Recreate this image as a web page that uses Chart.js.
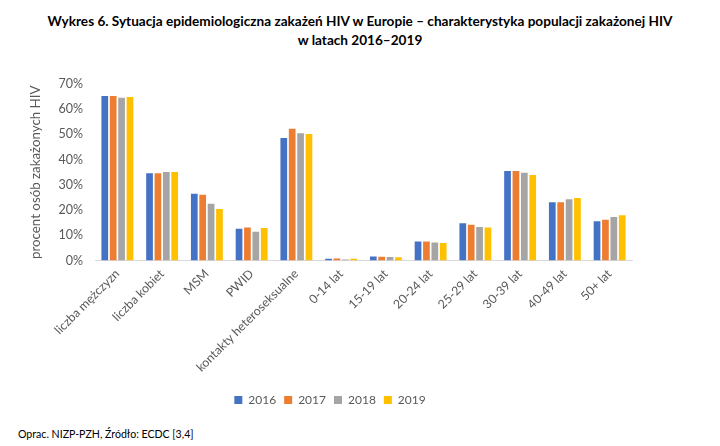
<!DOCTYPE html>
<html>
<head>
<meta charset="utf-8">
<script src="https://cdn.jsdelivr.net/npm/chart.js@4/dist/chart.umd.min.js"></script>
<style>
  html, body { margin: 0; padding: 0; background: #fff; }
  body { width: 720px; height: 446px; position: relative; overflow: hidden; font-family: Lato, "Open Sans", sans-serif; }
  #title { position: absolute; left: 0; top: 12px; width: 720px; text-align: center; font-weight: bold; font-size: 13.6px; line-height: 19px; color: #000; }
  #wrap { position: absolute; left: 0; top: 60px; width: 670px; height: 360px; }
  #foot { position: absolute; left: 18px; top: 428px; font-size: 10.6px; color: #000; }
</style>
</head>
<body>
<div id="title">Wykres 6. Sytuacja epidemiologiczna zakażeń HIV w Europie – charakterystyka populacji zakażonej HIV<br>w latach 2016–2019</div>
<div id="wrap"><canvas id="c"></canvas></div>
<div id="foot">Oprac. NIZP-PZH, Źródło: ECDC [3,4]</div>
<script>
const categories = ["liczba mężczyzn", "liczba kobiet", "MSM", "PWID", "kontakty heteroseksualne",
  "0-14 lat", "15-19 lat", "20-24 lat", "25-29 lat", "30-39 lat", "40-49 lat", "50+ lat"];
const years = ["2016", "2017", "2018", "2019"];
const v2016 = [65.2, 34.6, 26.5, 12.6, 48.6, 0.7, 1.6, 7.5, 14.8, 35.5, 23.1, 15.6];
const v2017 = [65.2, 34.6, 26.1, 13.1, 52.3, 0.8, 1.5, 7.5, 14.2, 35.5, 23.1, 16.2];
const v2018 = [64.5, 35.1, 22.5, 11.4, 50.5, 0.4, 1.4, 7.1, 13.3, 34.8, 24.3, 17.3];
const v2019 = [64.8, 35.1, 20.4, 12.9, 50.2, 0.7, 1.3, 6.9, 13.1, 33.9, 24.8, 17.9];
const yTicks = [0, 10, 20, 30, 40, 50, 60, 70];
const colors = ["#4472C4", "#ED7D31", "#A5A5A5", "#FFC000"];
const series = [v2016, v2017, v2018, v2019];

const txt = "#595959";
new Chart(document.getElementById("c"), {
  type: "bar",
  data: {
    labels: categories,
    datasets: series.map((d, i) => ({
      label: years[i], data: d, backgroundColor: colors[i],
      borderWidth: 0,
      barPercentage: 0.8, categoryPercentage: 0.75
    }))
  },
  options: {
    responsive: true, maintainAspectRatio: false, animation: false,
    layout: { padding: { left: 28, right: 38, top: 24, bottom: 4 } },
    plugins: {
      legend: {
        position: "bottom",
        labels: { color: txt, font: { family: "Lato", size: 12 }, boxWidth: 8, boxHeight: 8, padding: 8 }
      },
      tooltip: { enabled: false }
    },
    scales: {
      y: {
        min: 0, max: 70,
        afterBuildTicks: s => { s.ticks = yTicks.map(v => ({ value: v })); },
        ticks: { color: txt, font: { family: "Lato", size: 12.5 }, padding: 12, callback: v => v + "%" },
        grid: { display: false, drawTicks: false },
        border: { display: false },
        title: { display: true, text: "procent osób zakażonych HIV", color: txt, font: { family: "Lato", size: 13.3 }, padding: { top: 0, bottom: 2 } },
        afterFit: s => { s.width = 67; }
      },
      x: {
        ticks: { color: txt, font: { family: "Lato", size: 12.3 }, maxRotation: 45, minRotation: 45, padding: 6 },
        grid: { display: false, drawTicks: false },
        border: { display: true, color: "#D9D9D9", width: 1 },
        afterFit: s => { s.height = 125.5; }
      }
    }
  }
});
</script>
</body>
</html>
